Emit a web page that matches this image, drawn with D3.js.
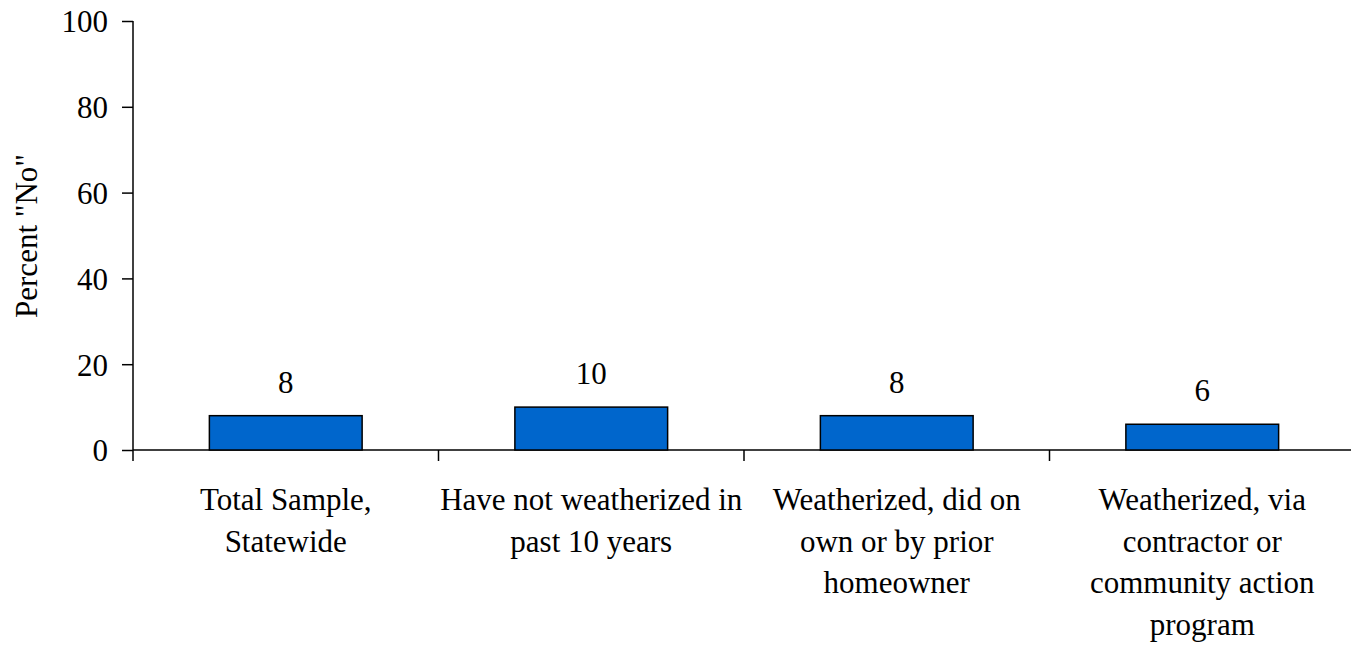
<!DOCTYPE html>
<html>
<head>
<meta charset="utf-8">
<script src="https://cdn.jsdelivr.net/npm/d3@7"></script>
</head>
<body style="margin:0; background:#fff; font-family:'Liberation Serif', serif">
<script>
// categories, one entry per line of the label
var categoryLines = [
    ["Total Sample,", "Statewide"],
    ["Have not weatherized in", "past 10 years"],
    ["Weatherized, did on", "own or by prior", "homeowner"],
    ["Weatherized, via", "contractor or", "community action", "program"]
];
var percentNo = [8, 10, 8, 6];
var yTicks = [0, 20, 40, 60, 80, 100];

var fontFam = "'Liberation Serif', 'Times New Roman', serif";

var margin = {top: 21, right: 0, bottom: 196, left: 133},
    width = 1351,
    height = 646,
    plotW = 1222,
    plotH = height - margin.top - margin.bottom;

var root = d3.select("body")
    .append("svg")
        .attr("width", width)
        .attr("height", height)
        .style("font-family", fontFam);

var svg = root.append("g")
        .attr("transform", "translate(" + margin.left + "," + margin.top + ")");

var x = d3.scaleBand()
    .domain(d3.range(percentNo.length))
    .range([0, plotW])
    .paddingInner(0.5)
    .paddingOuter(0.25);

var y = d3.scaleLinear()
    .domain([0, 100])
    .range([plotH, 0]);

// Y axis
var yAxis = svg.append("g")
    .call(d3.axisLeft(y).tickValues(yTicks).tickSize(11).tickPadding(14));
yAxis.attr("font-family", fontFam).attr("font-size", 31);
yAxis.selectAll("text")
    .style("font-family", fontFam)
    .style("font-size", "31px")
    .attr("fill", "#000")
    .attr("dy", "0.35em");
yAxis.selectAll("line, path").attr("stroke", "#000").attr("stroke-width", 1.5);
yAxis.select(".domain").attr("d", "M0," + plotH + "V0");

// X axis: ticks on the band boundaries
var step = x.step();
var boundaries = d3.range(percentNo.length + 1).map(function(i) { return i * step; });
var xAxis = svg.append("g")
    .attr("transform", "translate(0," + plotH + ")");
xAxis.append("line")
    .attr("x1", 0).attr("x2", plotW)
    .attr("stroke", "#000").attr("stroke-width", 1.5);
xAxis.selectAll(".xtick")
    .data(boundaries)
    .enter()
    .append("line")
        .attr("class", "xtick")
        .attr("x1", function(d) { return d; })
        .attr("x2", function(d) { return d; })
        .attr("y1", 0).attr("y2", 11)
        .attr("stroke", "#000").attr("stroke-width", 1.5);

// category labels
var catLabels = svg.append("g")
    .selectAll("text")
    .data(categoryLines)
    .enter()
    .append("text")
        .attr("text-anchor", "middle")
        .style("font-family", fontFam)
        .style("font-size", "31px")
        .attr("transform", function(d, i) {
            return "translate(" + (x(i) + x.bandwidth() / 2) + "," + (plotH + 60) + ")";
        });
catLabels.selectAll("tspan")
    .data(function(d) { return d; })
    .enter()
    .append("tspan")
        .attr("x", 0)
        .attr("y", function(d, j) { return j * 41.7; })
        .style("font-family", fontFam)
        .text(function(d) { return d; });

// bars
svg.append("g")
    .selectAll("rect")
    .data(percentNo)
    .enter()
    .append("rect")
        .attr("x", function(d, i) { return x(i); })
        .attr("y", function(d) { return y(d); })
        .attr("width", x.bandwidth())
        .attr("height", function(d) { return plotH - y(d); })
        .attr("fill", "#0066CC")
        .attr("stroke", "#000")
        .attr("stroke-width", 1.5);

// value labels
svg.append("g")
    .selectAll("text")
    .data(percentNo)
    .enter()
    .append("text")
        .attr("text-anchor", "middle")
        .style("font-family", fontFam)
        .style("font-size", "31px")
        .attr("x", function(d, i) { return x(i) + x.bandwidth() / 2; })
        .attr("y", function(d) { return y(d) - 23; })
        .text(function(d) { return d; });

// Y axis label
svg.append("text")
    .attr("text-anchor", "middle")
    .attr("transform", "rotate(-90)")
    .attr("x", -(236 - margin.top))
    .attr("y", 37 - margin.left)
    .style("font-family", fontFam)
    .style("font-size", "31px")
    .text('Percent "No"');
</script>
</body>
</html>
